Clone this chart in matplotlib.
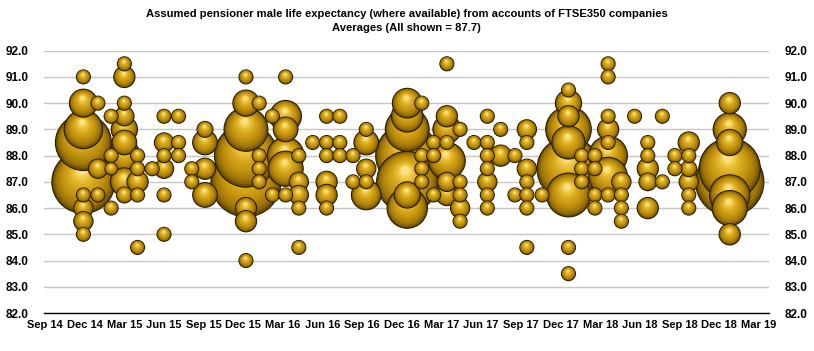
import numpy as np
import matplotlib
matplotlib.use('Agg')
import matplotlib.pyplot as plt
from matplotlib.colors import to_rgb

# reporting dates as months after 1 Sep 2014, one entry per column of bubbles
col_month = [2.9, 4.0, 5.0, 6.0, 7.0, 8.1, 9.0, 10.1, 11.1, 12.1,
             15.2, 16.2, 17.2, 18.2, 19.2, 20.25, 21.3, 22.3, 23.3, 24.3,
             27.4, 28.5, 29.4, 30.4, 31.4, 32.45, 33.46, 34.47, 35.55, 36.45,
             37.6, 39.6, 40.6, 41.6, 42.6, 43.6, 44.6, 45.6, 46.7, 47.65,
             48.7, 51.8]

# assumed life expectancy for each company in the column
col_values = [
    [91.0, 90.0, 89.0, 88.5, 87.0, 86.5, 86.0, 85.5, 85.0],
    [90.0, 87.5, 86.5],
    [89.5, 88.0, 87.5, 86.0],
    [91.5, 91.0, 90.0, 89.5, 89.0, 88.5, 88.0, 87.0, 86.5],
    [88.0, 87.5, 87.0, 86.5, 84.5],
    [87.5],
    [89.5, 88.5, 88.0, 87.5, 86.5, 85.0],
    [89.5, 88.5, 88.0],
    [87.5, 87.0],
    [89.0, 88.5, 87.5, 86.5],
    [91.0, 90.0, 89.0, 88.0, 87.0, 86.0, 85.5, 84.0],
    [90.0, 88.0, 87.5, 87.0],
    [89.5, 86.5],
    [91.0, 89.5, 89.0, 88.0, 87.5, 86.5],
    [88.0, 87.0, 86.5, 86.0, 84.5],
    [88.5],
    [89.5, 88.5, 88.0, 87.0, 86.5, 86.0],
    [89.5, 88.5, 88.0],
    [88.0, 87.0],
    [89.0, 88.5, 87.5, 87.0, 86.5],
    [90.0, 89.5, 89.0, 88.0, 87.0, 86.0, 86.5],
    [90.0, 88.0, 87.5, 87.0],
    [88.5, 88.0, 86.5],
    [91.5, 89.5, 89.0, 88.5, 87.8, 87.0, 86.5],
    [89.0, 87.0, 86.5, 86.0, 85.5],
    [88.5],
    [89.5, 88.5, 88.0, 87.5, 87.0, 86.5, 86.0],
    [89.0, 88.0],
    [88.0, 86.5],
    [89.0, 88.5, 87.5, 87.0, 86.5, 86.0, 84.5],
    [86.5],
    [90.5, 90.0, 89.5, 89.0, 88.5, 87.5, 86.5, 84.5, 83.5],
    [88.0, 87.5, 87.0],
    [88.0, 87.5, 86.5, 86.0],
    [91.5, 91.0, 89.5, 89.0, 88.5, 88.0, 87.2, 86.5],
    [87.0, 86.5, 86.0, 85.5],
    [89.5],
    [88.5, 88.0, 87.5, 87.0, 86.0],
    [89.5, 87.0],
    [88.0, 87.5],
    [88.5, 88.0, 87.5, 87.0, 86.5, 86.0],
    [90.0, 89.0, 88.5, 87.5, 87.0, 86.5, 86.0, 85.0],
]

# relative bubble size (scheme size)
col_sizes = [
    [1, 4, 7.6, 16, 20.3, 1, 1.9, 1.9, 1],
    [1, 1.9, 1],
    [1, 1, 0.8, 1],
    [1, 2.3, 1, 1.9, 3.5, 3.1, 5.1, 4, 1.3],
    [1, 1, 2.3, 1, 1],
    [1],
    [1, 1.9, 1, 1.9, 1, 1],
    [1, 1, 1],
    [1, 1],
    [1.3, 3.1, 2.3, 3.1],
    [1, 3.5, 9.8, 20.3, 25, 2.3, 2.3, 1],
    [1, 1, 1, 1],
    [1, 1],
    [1, 5.1, 3.1, 6.9, 6.3, 1],
    [1, 1.9, 1.9, 1, 1],
    [1],
    [1, 1, 1, 2.3, 2.3, 1],
    [1, 1, 1],
    [1, 1],
    [1, 3.1, 1.9, 1, 4.5],
    [4.5, 5.1, 9.8, 20.3, 19.1, 8.3, 3.5],
    [1, 1, 1, 1],
    [1, 1, 1],
    [1, 2.3, 4, 1, 6.9, 1.9, 2.3],
    [1, 1, 1, 1.9, 1],
    [1],
    [1, 1, 1, 1, 1.9, 1, 1],
    [1, 2.3],
    [1, 1],
    [1.9, 1, 1.9, 1, 1, 1, 1],
    [1],
    [1, 3.5, 2.3, 10.6, 5.6, 20.3, 9.8, 1, 1],
    [1, 1, 1],
    [1, 1, 1, 1],
    [1, 1, 1, 2.3, 1, 7.6, 7.6, 1],
    [1.9, 1, 1, 1],
    [1],
    [1, 1, 2.3, 1.6, 2.3],
    [1, 1],
    [1, 1],
    [2.3, 1, 1.3, 1.9, 1, 1],
    [2.3, 5.6, 3.5, 19.1, 23.8, 8.3, 6.3, 2.3],
]

tick_labels = ['Sep 14', 'Dec 14', 'Mar 15', 'Jun 15', 'Sep 15', 'Dec 15', 'Mar 16',
               'Jun 16', 'Sep 16', 'Dec 16', 'Mar 17', 'Jun 17', 'Sep 17', 'Dec 17',
               'Mar 18', 'Jun 18', 'Sep 18', 'Dec 18', 'Mar 19']
y_ticks = [82, 83, 84, 85, 86, 87, 88, 89, 90, 91, 92]

plt.rcParams['font.family'] = ['Liberation Sans Narrow', 'Liberation Sans', 'DejaVu Sans']
plt.rcParams['font.weight'] = 'bold'

DPI = 100
fig = plt.figure(figsize=(8.14, 3.51), dpi=DPI)
ax = fig.add_axes([44 / 814, 1 - 313 / 351, 725 / 814, (313 - 50.7) / 351])
ax.set_xlim(-0.08, 54.77)
ax.set_ylim(82, 92)

# flatten, big bubbles drawn first so the small ones sit on top
xs, ys, ss = [], [], []
for m, vals, sizes in zip(col_month, col_values, col_sizes):
    for v, s in zip(vals, sizes):
        xs.append(m)
        ys.append(v)
        ss.append(s)
order = np.argsort(-np.array(ss), kind='stable')

# gold sphere shading, rim -> highlight
stops = [(0.0, '#6a4d04'), (0.12, '#9a7208'), (0.35, '#bf8f0d'),
         (0.65, '#d9aa1e'), (0.88, '#efc843'), (1.0, '#fbe183')]


def shade(t):
    for (t0, c0), (t1, c1) in zip(stops[:-1], stops[1:]):
        if t <= t1:
            f = (t - t0) / (t1 - t0)
            a, b = np.array(to_rgb(c0)), np.array(to_rgb(c1))
            return tuple(a + (b - a) * f)
    return to_rgb(stops[-1][1])


n_layers = 14
base_d = 14.0  # pixel diameter of a size-1 bubble
px, py, psize, pcol, plw = [], [], [], [], []
inv = ax.transData.inverted()
for i in order:
    cx, cy = ax.transData.transform((xs[i], ys[i]))
    R = base_d * np.sqrt(ss[i]) / 2
    for k in range(n_layers):
        t = k / (n_layers - 1)
        r = R * (1 - 0.85 * t)
        x, y = inv.transform((cx - 0.06 * R * t, cy + 0.36 * R * t))
        px.append(x)
        py.append(y)
        psize.append((2 * r * 72 / DPI) ** 2)
        pcol.append(shade(t))
        plw.append(0.8 if k == 0 else 0.0)

ax.scatter(px, py, s=psize, c=pcol, edgecolors='#2a1e02', linewidths=plw, zorder=3)

ax.set_yticks(y_ticks)
ax.set_yticklabels([f'{v:.1f}' for v in y_ticks])
ax.set_xticks(np.arange(0, 55, 3)[:len(tick_labels)])
ax.set_xticklabels(tick_labels)
ax.tick_params(axis='y', length=0, pad=11, labelsize=8.5, labelright=True, right=False)
ax.tick_params(axis='x', length=0, pad=5, labelsize=8)

ax.grid(axis='y', color='#c6c6c6', linewidth=1.0, zorder=0)
ax.set_axisbelow(True)
for side in ['left', 'right', 'top']:
    ax.spines[side].set_visible(False)
ax.spines['bottom'].set_color('black')
ax.spines['bottom'].set_linewidth(1.0)

fig.text(406.5 / 814, 1 - 14 / 351,
         'Assumed pensioner male life expectancy (where available) from accounts of FTSE350 companies',
         ha='center', va='center', fontsize=8.1)
fig.text(406.5 / 814, 1 - 28 / 351, 'Averages (All shown = 87.7)',
         ha='center', va='center', fontsize=8.1)

fig.savefig('out.png', dpi=DPI, facecolor='white')
